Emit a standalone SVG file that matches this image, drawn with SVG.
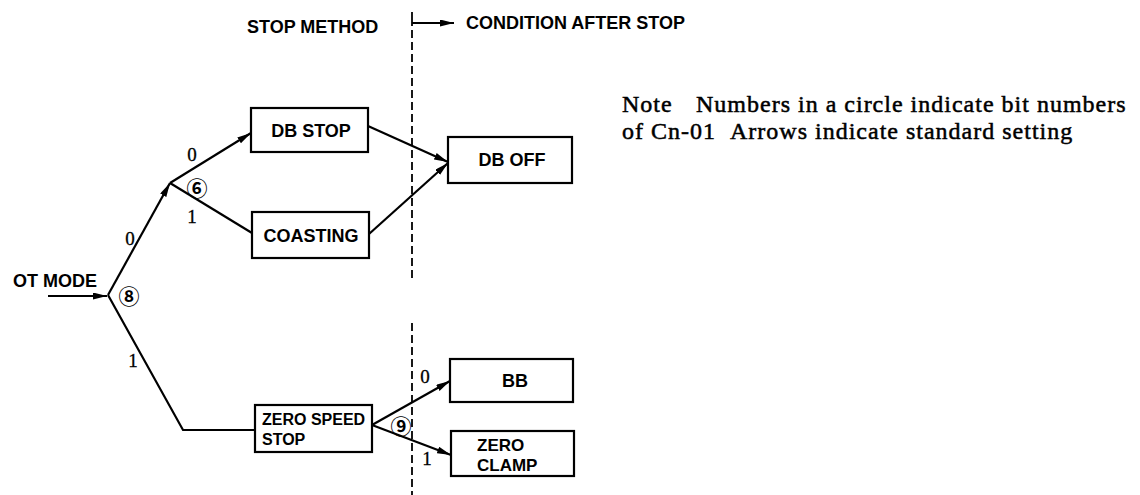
<svg xmlns="http://www.w3.org/2000/svg" width="1140" height="495" viewBox="0 0 1140 495">
<style>
.box{fill:#fff;stroke:#000;stroke-width:2.2}
.lbl{font-family:"Liberation Sans",Arial,sans-serif;font-weight:bold;font-size:18px;fill:#000}
.sm{font-size:16px}
.hd{font-family:"Liberation Sans",Arial,sans-serif;font-weight:bold;font-size:18px;fill:#000}
.bit{font-family:"Liberation Serif","Times New Roman",serif;font-size:19px;fill:#000;stroke:#000;stroke-width:0.3;text-anchor:middle}
.circ{font-family:"Noto Sans CJK JP","DejaVu Sans",sans-serif;font-size:21px;font-weight:bold;fill:#000;text-anchor:middle;dominant-baseline:central}
.note{font-family:"Liberation Serif","Times New Roman",serif;font-size:24px;letter-spacing:1px;fill:#000;stroke:#000;stroke-width:0.5}
.ln{fill:none;stroke:#000;stroke-width:2.2}
.dash{fill:none;stroke:#000;stroke-width:1.8;stroke-dasharray:8 4}
</style>
<defs>
<marker id="arr" markerUnits="userSpaceOnUse" markerWidth="15" markerHeight="8" refX="14" refY="3.5" orient="auto">
<path d="M0,0 L14,3.5 L0,7 z" fill="#000"/>
</marker>
</defs>
<rect width="1140" height="495" fill="#fff"/>
<g id="headings">
<text class="hd" x="247" y="33">STOP METHOD</text>
<text class="hd" x="466" y="29">CONDITION AFTER STOP</text>
</g>
<g id="divider">
<line x1="412" y1="12" x2="412" y2="26" stroke="#000" stroke-width="1.8"/>
<line class="dash" x1="412" y1="30" x2="412" y2="280"/>
<line class="dash" x1="412" y1="323" x2="412" y2="495"/>
<line x1="412" y1="23" x2="454" y2="23" stroke="#000" stroke-width="1.8" marker-end="url(#arr)"/>
</g>
<g id="connectors">
<line class="ln" x1="48" y1="296" x2="107" y2="296" marker-end="url(#arr)"/>
<line class="ln" x1="108" y1="295" x2="170" y2="183" marker-end="url(#arr)"/>
<line class="ln" x1="170" y1="183" x2="251" y2="133" marker-end="url(#arr)"/>
<line class="ln" x1="170" y1="183" x2="252" y2="233"/>
<line class="ln" x1="368" y1="126" x2="448" y2="162" marker-end="url(#arr)"/>
<line class="ln" x1="369" y1="234" x2="448" y2="163" marker-end="url(#arr)"/>
<polyline class="ln" points="108,295 183,430 255,430"/>
<line class="ln" x1="372" y1="425" x2="450" y2="381" marker-end="url(#arr)"/>
<line class="ln" x1="372" y1="425" x2="451" y2="455" marker-end="url(#arr)"/>
</g>
<g id="labels">
<text class="bit" x="192" y="161">0</text>
<text class="bit" x="192" y="223">1</text>
<text class="bit" x="130" y="245">0</text>
<text class="bit" x="133" y="367">1</text>
<text class="bit" x="425" y="383">0</text>
<text class="bit" x="427" y="465">1</text>
<text class="circ" x="197" y="187">⑥</text>
<text class="circ" x="129" y="295">⑧</text>
<text class="circ" x="401" y="425">⑨</text>
</g>
<g id="ot-mode">
<text class="lbl" x="13" y="287">OT MODE</text>
</g>
<g id="db-stop">
<rect class="box" x="251" y="108" width="117" height="44"/>
<text class="lbl" x="311" y="137" text-anchor="middle">DB STOP</text>
</g>
<g id="coasting">
<rect class="box" x="252" y="212" width="117" height="46"/>
<text class="lbl" x="311" y="242" text-anchor="middle">COASTING</text>
</g>
<g id="db-off">
<rect class="box" x="448" y="137" width="124" height="46"/>
<text class="lbl" x="512" y="166" text-anchor="middle">DB OFF</text>
</g>
<g id="zero-speed-stop">
<rect class="box" x="255" y="405" width="117" height="47"/>
<text class="lbl sm" x="262" y="425">ZERO SPEED</text>
<text class="lbl sm" x="262" y="445">STOP</text>
</g>
<g id="bb">
<rect class="box" x="450" y="359" width="123" height="43"/>
<text class="lbl" x="515" y="387" text-anchor="middle">BB</text>
</g>
<g id="zero-clamp">
<rect class="box" x="451" y="431" width="123" height="45"/>
<text class="lbl" x="477" y="451" style="font-size:17px">ZERO</text>
<text class="lbl" x="477" y="471" style="font-size:17px">CLAMP</text>
</g>
<g id="note">
<text class="note" y="112"><tspan x="622">Note</tspan><tspan x="696">Numbers in a circle indicate bit numbers</tspan></text>
<text class="note" y="139"><tspan x="622">of Cn-01</tspan><tspan x="730">Arrows indicate standard setting</tspan></text>
</g>
</svg>
